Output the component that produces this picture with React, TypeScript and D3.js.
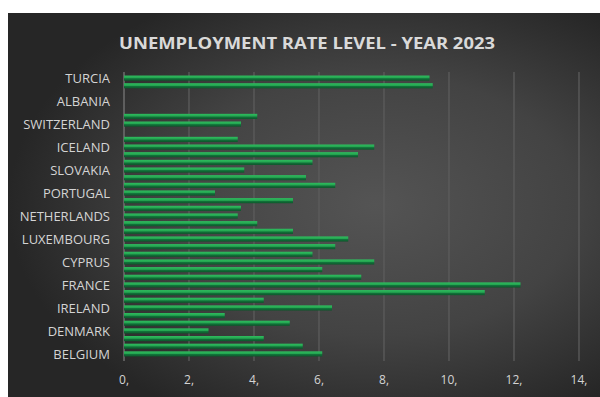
import React from "react";
import * as d3 from "d3";

const categories: string[] = [
  "BELGIUM", "BULGARIA", "CZECHIA", "DENMARK", "GERMANY", "ESTONIA", "IRELAND",
  "GREECE", "SPAIN", "FRANCE", "CROATIA", "ITALY", "CYPRUS", "LATVIA", "LITHUANIA",
  "LUXEMBOURG", "HUNGARY", "MALTA", "NETHERLANDS", "AUSTRIA", "POLAND", "PORTUGAL",
  "ROMANIA", "SLOVENIA", "SLOVAKIA", "FINLAND", "SWEDEN", "ICELAND", "LIECHTENSTEIN",
  "NORWAY", "SWITZERLAND", "MONTENEGRO", "NORTH MACEDONIA", "ALBANIA", "SERBIA",
  "KOSOVO", "TURCIA",
];

const rates: (number | null)[] = [
  6.1, 5.5, 4.3, 2.6, 5.1, 3.1, 6.4, 4.3, 11.1, 12.2, 7.3, 6.1, 7.7, 5.8, 6.5,
  6.9, 5.2, 4.1, 3.5, 3.6, 5.2, 2.8, 6.5, 5.6, 3.7, 5.8, 7.2, 7.7, 3.5, null,
  3.6, 4.1, null, null, null, 9.5, 9.4,
];

const xTicks: number[] = [0, 2, 4, 6, 8, 10, 12, 14];
const labelEvery = 3;
const title = "UNEMPLOYMENT RATE LEVEL - YEAR 2023";

export default function App() {
  const W = 600;
  const H = 397;
  const x = d3.scaleLinear().domain([0, 14]).range([124, 579]);
  const idx = d3.range(categories.length);
  const y = d3
    .scaleBand<number>()
    .domain(idx)
    .range([358, 74])
    .paddingInner(0.33)
    .paddingOuter(0.2);
  const bw = y.bandwidth();

  return (
    <svg
      width={W}
      height={H}
      style={{ position: "absolute", left: 0, top: 0, background: "#ffffff" }}
    >
      <defs>
        <radialGradient id="bg" cx="0.62" cy="0.5" r="0.62">
          <stop offset="0%" stopColor="#545454" />
          <stop offset="55%" stopColor="#434343" />
          <stop offset="100%" stopColor="#262626" />
        </radialGradient>
        <linearGradient id="barGrad" x1="0" y1="0" x2="0" y2="1">
          <stop offset="0%" stopColor="#2fbd5f" />
          <stop offset="45%" stopColor="#24a550" />
          <stop offset="60%" stopColor="#12733b" />
          <stop offset="100%" stopColor="#0b5629" />
        </linearGradient>
      </defs>
      <rect x={8} y={13} width={W - 8} height={H - 13} fill="url(#bg)" />

      <text
        x={307}
        y={49}
        textAnchor="middle"
        fontFamily="'Open Sans', 'DejaVu Sans', sans-serif"
        fontWeight="bold"
        fontSize={16}
        fill="#d9d9d9"
        textLength={376}
        lengthAdjust="spacingAndGlyphs"
      >
        {title}
      </text>

      {xTicks.map((t) => (
        <line
          key={"g" + t}
          x1={x(t)}
          x2={x(t)}
          y1={72}
          y2={361}
          stroke={t === 0 ? "#777777" : "#5c5c5c"}
          strokeWidth={1.3}
        />
      ))}

      {idx.map((i) => {
        const v = rates[i];
        if (v === null) return null;
        return (
          <rect
            key={"b" + i}
            x={x(0)}
            y={y(i)!}
            width={x(v) - x(0)}
            height={bw}
            fill="url(#barGrad)"
          />
        );
      })}

      {idx
        .filter((i) => i % labelEvery === 0)
        .map((i) => (
          <text
            key={"c" + i}
            x={110}
            y={y(i)! + bw / 2}
            dy="0.36em"
            textAnchor="end"
            fontFamily="'Open Sans', 'DejaVu Sans', sans-serif"
            fontSize={13}
            fill="#d4d4d4"
          >
            {categories[i]}
          </text>
        ))}

      {xTicks.map((t) => (
        <text
          key={"t" + t}
          x={x(t)}
          y={384}
          textAnchor="middle"
          fontFamily="'Open Sans', 'DejaVu Sans', sans-serif"
          fontSize={12}
          fill="#d4d4d4"
        >
          {`${t},`}
        </text>
      ))}
    </svg>
  );
}
